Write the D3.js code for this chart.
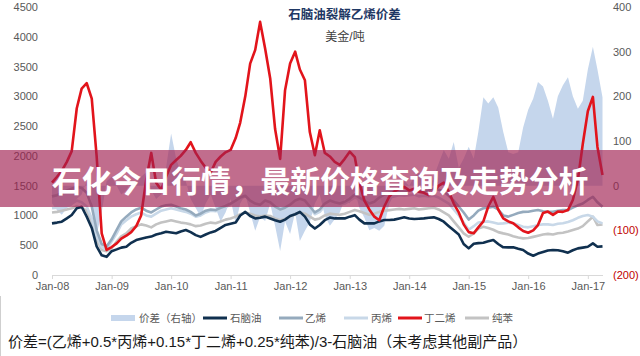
<!DOCTYPE html>
<html><head><meta charset="utf-8">
<script src="https://cdn.jsdelivr.net/npm/d3@7"></script>
<style>
html,body{margin:0;padding:0;background:#fff;}
svg{display:block;font-family:"Liberation Sans","Noto Sans CJK SC",Arial,sans-serif;}
</style></head><body>
<svg id="chart" width="640" height="356"></svg>
<script>
// ---------- DATA (monthly, Jan-2008 .. Apr-2017) ----------
const firstMonth = "2008-01";
const lastMonth = "2017-04";
const xTickLabels = ["Jan-08","Jan-09","Jan-10","Jan-11","Jan-12","Jan-13","Jan-14","Jan-15","Jan-16","Jan-17"];
const leftTicks = [0,500,1000,1500,2000,2500,3000,3500,4000,4500];
const rightTicks = [-200,-100,0,100,200,300,400];

const spread = [ // 价差 (right axis)
 -40,-55,-65,-50,-45,-30,-20,10,-40,-110,-60,10,
 20,0,-20,-10,10,5,20,30,-10,-30,-20,40,
 117,60,30,10,-30,-50,-70,-40,-20,-50,-80,-60,
 -30,-85,-40,-20,-60,-101,-70,-79,-40,-90,-146,-80,
 -108,-60,-124,-101,-82,-40,-20,-67,-90,-75,-60,-30,
 -40,-10,-50,-72,-100,-95,-101,-90,-40,-20,-10,10,
 0,20,30,10,-10,20,50,80,60,98,40,60,
 87,60,120,198,184,198,175,120,75,71,75,130,
 170,195,232,222,190,150,200,225,243,200,172,190,
 260,311,260,198];
const naphtha = [ // 石脑油
 867,880,895,950,1007,1120,1146,980,790,480,330,305,
 400,430,460,475,540,587,610,630,645,680,700,725,
 715,700,730,755,720,670,640,680,715,740,790,840,
 860,880,1000,1060,990,950,960,980,950,920,895,930,
 990,1020,1060,980,850,780,840,920,965,950,950,950,
 980,1005,930,867,867,867,900,923,923,930,950,968,
 950,940,945,951,960,968,940,895,820,750,680,520,
 447,525,535,542,565,587,520,465,464,464,440,419,
 360,324,360,385,410,419,416,400,375,415,447,460,
 475,531,475,481];
const ethylene = [ // 乙烯
 1320,1340,1380,1420,1450,1480,1460,1380,1150,750,520,480,
 600,760,900,980,1050,1100,1130,1080,1050,1100,1150,1170,
 1180,1150,1120,1100,1060,1000,1030,1080,1100,1090,1130,1160,
 1200,1250,1300,1330,1250,1200,1180,1250,1220,1150,1100,1130,
 1180,1250,1280,1250,1150,1050,1100,1200,1250,1220,1200,1230,
 1280,1350,1300,1250,1200,1230,1300,1350,1380,1400,1420,1400,
 1420,1430,1400,1410,1420,1450,1430,1400,1330,1250,1150,1050,
 930,1000,1080,1120,1130,1146,1100,1000,980,1010,1040,1060,
 1062,1080,1090,1070,1060,1062,1080,1090,1090,1130,1170,1200,
 1260,1314,1220,1146];
const propylene = [ // 丙烯
 1120,1130,1150,1180,1200,1250,1220,1150,950,650,470,430,
 560,700,850,920,980,1020,1050,1000,980,1030,1080,1100,
 1120,1100,1080,1060,1030,980,1000,1050,1080,1070,1110,1140,
 1180,1230,1280,1320,1280,1230,1200,1240,1200,1130,1080,1100,
 1150,1220,1260,1230,1130,1020,1060,1160,1230,1200,1180,1200,
 1250,1300,1270,1220,1170,1190,1250,1290,1300,1320,1340,1330,
 1340,1350,1320,1330,1320,1330,1300,1250,1200,1100,1000,880,
 760,820,880,895,900,880,860,867,880,870,840,811,
 800,820,839,850,850,839,860,870,890,920,960,990,
 1007,980,900,867];
const butadiene = [ // 丁二烯
 1550,1650,1750,1900,2080,2800,3130,3220,2960,1990,700,420,
 470,530,610,660,720,820,1000,1600,2050,1550,1430,1650,
 1850,1930,2000,2100,2230,2050,1920,1800,1720,1900,1990,2060,
 2100,2300,2560,3000,3550,3780,4250,3800,3300,2450,1950,3100,
 3550,3750,3450,3270,2400,2010,2430,2050,1990,1900,1850,1950,
 2070,1980,1550,1250,1100,980,920,1150,1320,1400,1450,1480,
 1420,1450,1400,1380,1340,1400,1500,1550,1400,1200,1050,850,
 720,700,800,900,1150,1310,1100,950,900,870,800,740,
 710,750,839,1040,1065,1010,1065,1060,1090,1260,1600,2200,
 2750,2990,2150,1680];
const benzene = [ // 纯苯
 1050,1060,1080,1100,1120,1150,1130,1080,900,600,420,400,
 450,560,650,700,780,820,850,830,800,850,880,900,
 920,900,880,870,850,820,830,860,880,870,900,930,
 950,980,1020,1050,1030,1000,980,1000,990,950,920,940,
 980,1020,1050,1030,980,930,950,1000,1030,1020,1010,1030,
 1060,1090,1070,1040,1010,1030,1060,1080,1090,1100,1110,1100,
 1110,1120,1100,1110,1120,1130,1100,1050,1000,900,800,700,
 643,700,780,811,790,760,720,699,680,650,630,615,
 620,640,660,680,690,680,700,710,730,755,780,820,
 900,979,839,850];

const legendNames = ["价差（右轴）","石脑油","乙烯","丙烯","丁二烯","纯苯"];
const titleText = "石脑油裂解乙烯价差";
const unitText = "美金/吨";
const bannerText = "石化今日行情，最新价格查询及走势分析";
const noteText = "价差=(乙烯+0.5*丙烯+0.15*丁二烯+0.25*纯苯)/3-石脑油（未考虑其他副产品）";

// ---------- CHART ----------
const svg = d3.select("#chart");
const pm = d3.timeParse("%Y-%m");
const months = d3.timeMonth.range(pm(firstMonth), d3.timeMonth.offset(pm(lastMonth), 1));

const x = d3.scaleTime().domain([months[0], months[months.length-1]]).range([52, 602.5]);
const yL = d3.scaleLinear().domain([0, 4500]).range([275, 7]);
const yR = d3.scaleLinear().domain([-200, 400]).range([275, 7]);

const col = {
  spread: "#c5d6ec", naphtha: "#10304f", ethylene: "#95aabd",
  propylene: "#c8d8e8", butadiene: "#e2141b", benzene: "#c3c3c3"
};

// spread area
svg.append("path")
  .datum(spread)
  .attr("fill", col.spread)
  .attr("d", d3.area().x((d,i)=>x(months[i])).y0(yR(0)).y1(d=>yR(d)));

const line = d3.line().x((d,i)=>x(months[i])).y(d=>yL(d)).curve(d3.curveLinear);
[[benzene, col.benzene],[propylene, col.propylene],[ethylene, col.ethylene],[naphtha, col.naphtha],[butadiene, col.butadiene]]
 .forEach(([s,c])=>{
   svg.append("path").datum(s).attr("fill","none").attr("stroke",c)
     .attr("stroke-width", 2.6).attr("stroke-linejoin","round").attr("d", line);
 });

// x axis
const parseTick = d3.timeParse("%b-%y");
const xAxis = d3.axisBottom(x).tickValues(xTickLabels.map(parseTick))
  .tickFormat((d,i)=>xTickLabels[i]).tickSize(4).tickSizeOuter(0).tickPadding(3);
const gx = svg.append("g").attr("transform","translate(0,275)").call(xAxis);
gx.select(".domain").attr("stroke","#d9d9d9");
gx.selectAll(".tick line").attr("stroke","#d9d9d9");
gx.selectAll("text").attr("fill","#595959").style("font-size","11px");

// left axis
const gl = svg.append("g").attr("transform","translate(39,0)")
  .call(d3.axisLeft(yL).tickValues(leftTicks).tickSize(0).tickPadding(1).tickFormat(d3.format("d")));
gl.select(".domain").remove();
gl.selectAll("text").attr("fill","#595959").style("font-size","11px");

// right axis
const gr = svg.append("g").attr("transform","translate(612,0)")
  .call(d3.axisRight(yR).tickValues(rightTicks).tickSize(0).tickPadding(1)
    .tickFormat(d=> d<0 ? "(" + (-d) + ")" : String(d)));
gr.select(".domain").remove();
gr.selectAll("text").attr("fill", d=> d<0 ? "#c00000" : "#595959").style("font-size","11px");

// title
svg.append("text").attr("x",344.5).attr("y",15).attr("text-anchor","middle")
  .attr("dominant-baseline","central").attr("fill","#1f3864")
  .style("font-size","12.5px").style("font-weight","bold").text(titleText);
svg.append("text").attr("x",345).attr("y",37).attr("text-anchor","middle")
  .attr("dominant-baseline","central").attr("fill","#404040")
  .style("font-size","12px").text(unitText);

// legend
const lg = svg.append("g").style("font-size","10.5px");
const legItems = [
  {sx:111, tx:139, type:"rect", c:col.spread},
  {sx:203, tx:230, type:"line", c:col.naphtha},
  {sx:279, tx:305, type:"line", c:col.ethylene},
  {sx:344, tx:371, type:"line", c:col.propylene},
  {sx:398, tx:424, type:"line", c:col.butadiene},
  {sx:465, tx:492, type:"line", c:col.benzene}
];
legItems.forEach((it,i)=>{
  if (it.type==="rect") lg.append("rect").attr("x",it.sx).attr("y",315).attr("width",24).attr("height",6).attr("fill",it.c);
  else lg.append("line").attr("x1",it.sx).attr("x2",it.sx+24).attr("y1",318).attr("y2",318).attr("stroke",it.c).attr("stroke-width",3);
  lg.append("text").attr("x",it.tx).attr("y",318).attr("dominant-baseline","central").attr("fill","#595959").text(legendNames[i]);
});

// footnote
svg.append("text").attr("x",8).attr("y",341).attr("dominant-baseline","central")
  .attr("fill","#1a1a1a").style("font-size","15px").text(noteText);

// left border line at bottom
svg.append("line").attr("x1",0.5).attr("x2",0.5).attr("y1",296).attr("y2",356).attr("stroke","#cfcfcf");

// banner overlay
svg.append("rect").attr("x",0).attr("y",150).attr("width",640).attr("height",57)
  .attr("fill","rgb(160,30,80)").attr("fill-opacity",0.65);
svg.append("text").attr("x",52).attr("y",179).attr("dominant-baseline","central")
  .attr("fill","#ffffff").style("font-size","29.8px").style("font-weight","bold")
  .style("font-family","'Noto Sans CJK SC',sans-serif").text(bannerText);
</script>
</body></html>
